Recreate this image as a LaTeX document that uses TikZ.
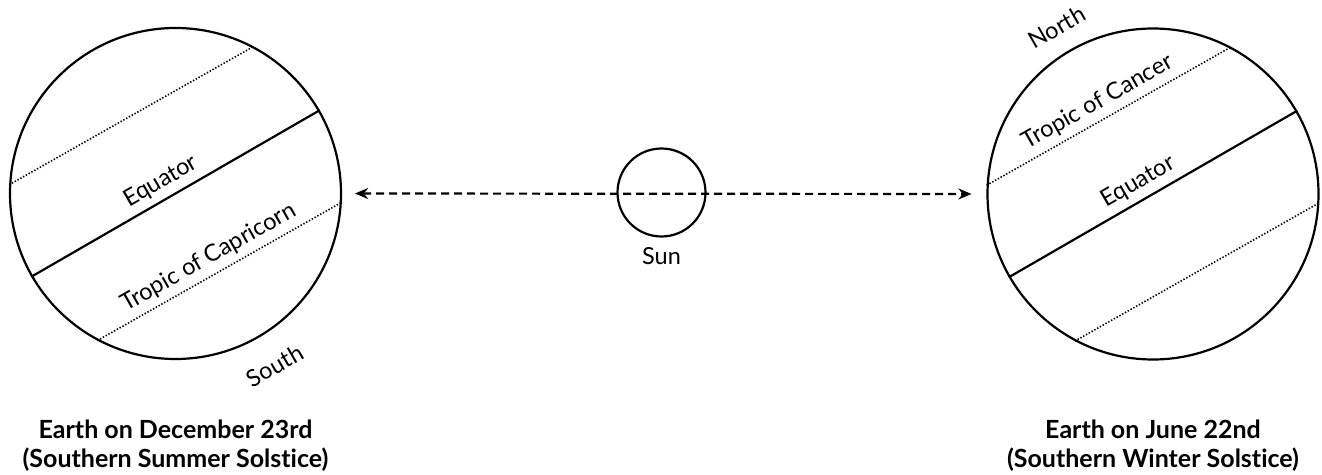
\documentclass[tikz,border=0pt]{standalone}
\usepackage{fontspec}
\setmainfont{Lato}[Ligatures=NoCommon]
\usetikzlibrary{arrows.meta,positioning,calc}

\begin{document}
\begin{tikzpicture}[
    x=1pt, y=1pt,
    node distance=6pt,
    >=Stealth,
    earth/.style={circle, draw, line width=2.2pt, minimum size=331pt, inner sep=0pt},
    sunbox/.style={circle, draw, line width=2.2pt, minimum size=88pt, inner sep=0pt},
    equatorline/.style={line width=2.2pt},
    tropicline/.style={line width=1.6pt, dash pattern=on 1.4pt off 1.8pt},
    orbitarrow/.style={{Stealth[length=13pt,width=11pt]}-{Stealth[length=13pt,width=11pt]},
        line width=2.2pt, dash pattern=on 8pt off 5pt, shorten <=13pt, shorten >=15pt},
    lbl/.style={font=\fontsize{23.5}{28}\selectfont, inner sep=3pt},
    caption/.style={font=\bfseries\fontsize{25}{29}\selectfont, align=center}
]
\useasboundingbox (0,0) rectangle (1322,474);

% Nodes
\node[earth] (earthL) at (175.5,280.5) {};
\node[earth] (earthR) at (1153,280) {};
\node[sunbox] (sun) at (661.5,281.5) {};
\node[lbl, below=7pt of sun] (sunlbl) {Sun};

\node[caption, below=56pt of earthL] (captionL) {Earth on December 23rd\\(Southern Summer Solstice)};
\node[caption, below=56pt of earthR] (captionR) {Earth on June 22nd\\(Southern Winter Solstice)};

% Left Earth
\draw[equatorline] (earthL.210) -- (earthL.30) node[lbl, pos=.48, sloped, above=3pt] (eqL) {Equator};
\draw[tropicline] (earthL.177.3) -- (earthL.62.7);
\draw[tropicline] (earthL.242.7) -- (earthL.357.3) node[lbl, pos=.49, sloped, above=3pt] (capricorn) {Tropic of Capricorn};
\node[lbl, rotate=30, anchor=north] (southlbl) at ([shift={(300:20)}]earthL.300) {South};

% Right Earth
\draw[equatorline] (earthR.210) -- (earthR.30) node[lbl, pos=.48, sloped, above=3pt] (eqR) {Equator};
\draw[tropicline] (earthR.177.3) -- (earthR.62.7) node[lbl, pos=.49, sloped, above=3pt] (cancer) {Tropic of Cancer};
\draw[tropicline] (earthR.242.7) -- (earthR.357.3);
\node[lbl, rotate=30, anchor=south] (northlbl) at ([shift={(120:14)}]earthR.120) {North};

% Connections
\draw[orbitarrow] (earthL.east) -- (earthR.west);

\end{tikzpicture}
\end{document}
